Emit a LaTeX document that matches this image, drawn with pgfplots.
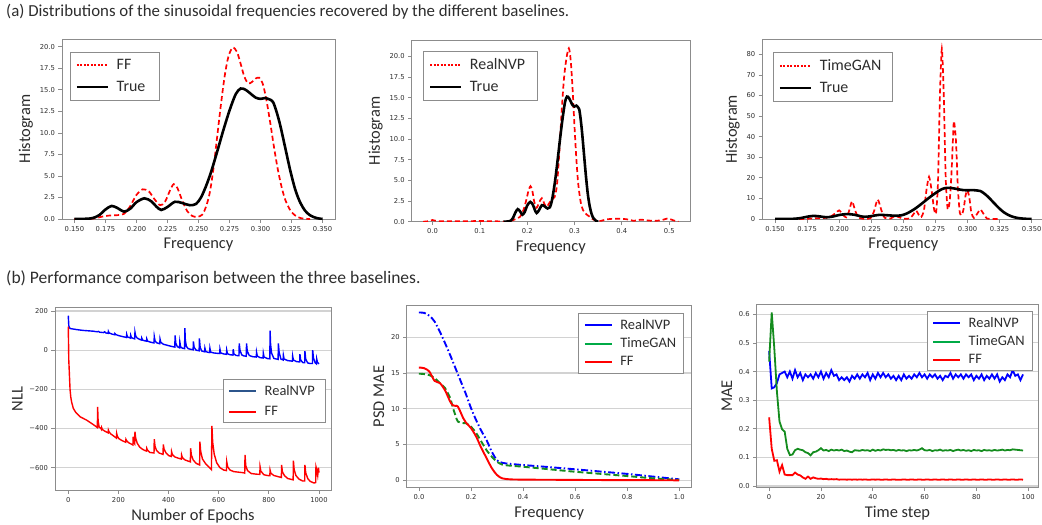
\documentclass[border=0pt]{standalone}
\usepackage{fontspec}
\setmainfont{Carlito}
\newfontfamily\tickfont{DejaVu Sans}
\usepackage{pgfplots}
\pgfplotsset{compat=1.18}

\definecolor{framegray}{RGB}{140,140,140}
\definecolor{gridgray}{RGB}{210,210,210}
\definecolor{txtgray}{RGB}{45,45,45}
\definecolor{mplgreen}{RGB}{20,140,30}
\definecolor{leggreen}{RGB}{0,170,70}
\definecolor{legblue}{RGB}{44,85,140}

\pgfplotsset{
  panel/.style={
    scale only axis,
    axis line style={draw=framegray, line width=0.9bp},
    tick style={draw=framegray, line width=0.7bp},
    tick align=outside, major tick length=3.5bp, tick pos=left,
    /pgf/number format/assume math mode=true,
    tick label style={font=\tickfont\fontsize{6.8}{8}\selectfont, text=txtgray},
    label style={font=\fontsize{16.5}{18}\selectfont, text=txtgray},
    legend cell align=left,
    legend style={draw=framegray, line width=0.9bp, text=txtgray},
  },
  toplegend/.style={
    legend style={font=\fontsize{16}{18}\selectfont,
      inner xsep=5bp, inner ysep=4bp, row sep=3bp, column sep=4bp,
      nodes={inner sep=3.5bp}},
    legend image code/.code={\draw[##1] (0bp,0bp) -- (31bp,0bp);},
  },
  botlegend/.style={
    legend style={font=\fontsize{14.5}{16}\selectfont,
      inner xsep=5bp, inner ysep=3bp, row sep=2bp, column sep=5bp,
      nodes={inner sep=2.6bp}},
    legend image code/.code={\draw[##1] (0bp,0bp) -- (27bp,0bp);},
  },
  ygrid/.style={ymajorgrids, major grid style={draw=gridgray, line width=1.1bp}},
}

% kernel density of the true frequencies (same in all three top panels)
\pgfplotstableread{
x y
0.150 0.00
0.160 0.03
0.165 0.12
0.170 0.45
0.175 1.10
0.180 1.52
0.185 1.25
0.190 0.85
0.195 1.20
0.200 1.95
0.2065 2.40
0.212 2.05
0.216 1.45
0.220 1.05
0.225 1.40
0.231 2.00
0.237 1.85
0.243 1.60
0.248 1.75
0.252 2.50
0.256 3.80
0.260 5.40
0.265 7.80
0.270 10.30
0.275 12.60
0.280 14.50
0.284 15.15
0.288 15.00
0.292 14.55
0.296 14.10
0.300 13.95
0.304 14.05
0.307 13.90
0.310 13.60
0.313 12.40
0.316 10.80
0.320 8.20
0.324 5.60
0.328 3.40
0.332 1.90
0.336 0.95
0.340 0.42
0.345 0.12
0.350 0.00
}\truedata

\pgfplotstableread{
x y
0.150 0.00
0.160 0.00
0.165 0.05
0.170 0.20
0.175 0.35
0.180 0.42
0.185 0.45
0.190 0.60
0.195 1.50
0.200 2.80
0.205 3.45
0.210 3.20
0.214 2.40
0.219 1.60
0.223 2.00
0.227 3.30
0.230 4.05
0.233 3.60
0.237 2.10
0.241 0.90
0.245 0.35
0.249 0.25
0.253 0.50
0.256 1.40
0.259 3.00
0.262 5.80
0.265 9.50
0.268 13.20
0.271 16.50
0.274 18.80
0.2775 19.90
0.281 19.40
0.284 18.00
0.287 16.50
0.290 15.75
0.293 15.90
0.296 16.30
0.299 16.40
0.302 15.60
0.305 13.60
0.308 11.00
0.311 8.20
0.314 5.70
0.317 3.70
0.320 2.20
0.324 1.00
0.328 0.40
0.332 0.12
0.336 0.03
0.340 0.00
}\ffdata

\pgfplotstableread{
x y
-0.020 0.00
-0.010 0.05
0.000 0.20
0.008 0.10
0.020 0.05
0.060 0.05
0.100 0.08
0.140 0.04
0.155 0.00
0.165 0.10
0.175 0.30
0.185 0.60
0.192 1.40
0.198 2.60
0.203 3.80
0.207 4.30
0.211 3.70
0.215 2.40
0.220 1.70
0.225 2.30
0.231 2.85
0.236 2.20
0.241 1.80
0.246 2.20
0.252 2.70
0.258 3.00
0.263 4.50
0.268 8.50
0.273 13.50
0.278 17.50
0.283 19.80
0.288 21.00
0.292 19.50
0.296 16.00
0.300 11.50
0.304 7.50
0.308 4.50
0.313 2.40
0.318 1.40
0.325 0.90
0.332 0.60
0.340 0.25
0.348 0.10
0.356 0.10
0.365 0.25
0.380 0.35
0.400 0.35
0.415 0.25
0.425 0.10
0.440 0.25
0.455 0.15
0.470 0.10
0.485 0.20
0.497 0.40
0.505 0.25
0.515 0.05
0.520 0.00
}\nvpdata

\pgfplotstableread{
x y
0.150 0.0
0.170 0.0
0.180 0.3
0.188 0.5
0.193 1.0
0.197 2.8
0.200 4.2
0.203 2.0
0.2055 0.8
0.2075 3.5
0.210 8.6
0.2125 4.0
0.215 0.8
0.220 0.0
0.2245 0.5
0.227 3.5
0.230 9.5
0.233 4.0
0.2355 0.6
0.240 0.2
0.2435 1.5
0.246 1.0
0.250 0.2
0.255 0.3
0.2575 2.0
0.260 4.0
0.2625 1.5
0.264 1.0
0.266 4.0
0.268 14.0
0.270 20.5
0.272 14.0
0.274 4.5
0.2755 3.0
0.277 18.0
0.2785 60.0
0.280 82.7
0.2815 60.0
0.283 20.0
0.2845 5.0
0.286 8.0
0.2875 22.0
0.289 44.0
0.2895 47.5
0.291 38.0
0.2925 15.0
0.294 3.0
0.2955 2.0
0.297 5.0
0.2985 11.5
0.300 14.0
0.3015 10.0
0.303 3.0
0.305 0.5
0.3075 2.5
0.310 4.6
0.3125 2.5
0.315 0.3
0.320 0.0
0.325 0.0
}\gandata

% NLL training curves
\pgfplotstableread{
e y
0 176
2 125
5 113
10 110
20 108
40 104
60 101
80 99
100 97
115 94
120 96
125 92
140 90
145 94
150 88
159 86
160 96
163 88
175 82
185 79
186 85
189 80
200 75
215 70
232 65
233 81
236 68
248 62
249 76
252 64
260 60
265 58
266 92
269 72
275 62
285 55
292 52
293 62
296 52
305 48
312 46
313 58
316 47
325 42
342 37
343 70
346 48
352 38
365 33
366 57
369 40
380 30
395 25
410 20
425 16
426 75
429 35
435 18
444 12
445 42
448 18
455 10
464 8
465 113
467 50
471 20
478 8
490 4
498 2
499 45
502 15
510 0
522 -3
523 60
526 15
532 -4
544 -8
545 10
548 -6
555 -10
564 -12
565 10
568 -10
580 -14
595 -16
604 -17
605 5
608 -14
620 -19
631 -21
632 0
635 -18
645 -23
657 -25
658 5
661 -20
670 -27
681 -28
682 35
685 0
692 -24
700 -29
710 -31
711 35
714 -5
722 -27
735 -33
750 -35
751 -10
754 -30
765 -38
777 -40
778 -15
781 -35
795 -43
804 -44
805 100
807 30
811 -15
820 -42
837 -47
838 35
841 -10
848 -45
857 -50
858 -25
861 -45
875 -53
894 -56
895 -30
898 -50
910 -58
923 -60
924 -20
927 -50
935 -63
943 -64
944 -5
947 -45
955 -65
965 -68
974 -68
975 0
978 -40
985 -65
990 -70
991 -45
994 -62
1000 -70
}\nllnvp

\pgfplotstableread{
e y
0 120
2 -50
4 -110
7 -200
10 -240
13 -263
20 -297
30 -318
47 -340
73 -357
100 -380
116 -395
117 -289
119 -360
123 -392
130 -400
132 -404
133 -395
136 -405
145 -413
159 -422
160 -408
163 -418
170 -428
185 -442
192 -449
193 -425
196 -440
202 -452
215 -462
229 -470
230 -455
233 -462
240 -472
258 -484
259 -442
261 -470
265 -478
266 -416
269 -450
275 -475
285 -495
295 -505
305 -512
312 -515
313 -501
316 -510
325 -522
342 -525
343 -454
346 -490
352 -512
362 -525
378 -532
379 -481
382 -505
390 -525
400 -538
411 -543
412 -518
415 -532
425 -545
440 -552
451 -556
452 -535
455 -548
465 -560
475 -565
487 -570
488 -501
491 -535
498 -560
510 -578
524 -586
525 -467
528 -515
535 -555
548 -580
560 -595
571 -610
573 -387
576 -470
582 -530
592 -575
605 -600
620 -612
631 -615
632 -569
636 -596
645 -612
660 -620
680 -623
700 -626
704 -628
705 -535
708 -590
715 -615
730 -630
750 -633
764 -634
765 -595
768 -617
780 -636
795 -640
804 -641
805 -612
808 -628
820 -640
835 -645
850 -650
851 -586
854 -620
862 -640
875 -655
890 -660
897 -662
898 -564
901 -610
908 -640
920 -658
935 -668
943 -668
944 -586
947 -625
955 -655
965 -670
980 -678
987 -676
988 -595
991 -610
995 -640
998 -600
1000 -625
}\nllff

% PSD mean absolute error
\pgfplotstableread{
f nvp gan ff
0.00 23.45 14.90 15.76
0.02 23.40 14.85 15.67
0.04 23.00 14.70 15.20
0.06 22.20 14.30 13.90
0.08 20.80 13.60 13.60
0.10 19.20 12.90 12.60
0.12 17.50 11.50 11.00
0.13 16.60 10.20 10.50
0.14 15.70 9.10 10.40
0.15 14.80 8.20 10.30
0.17 13.00 8.00 8.70
0.18 12.10 8.00 8.10
0.20 10.10 7.50 7.30
0.22 8.40 6.60 6.10
0.24 6.90 5.40 4.50
0.26 5.60 4.20 3.10
0.28 4.00 3.30 1.70
0.30 2.80 2.60 0.75
0.32 2.45 2.20 0.28
0.35 2.30 2.05 0.14
0.40 2.14 1.90 0.10
0.50 1.85 1.55 0.08
0.60 1.54 1.20 0.06
0.70 1.22 0.90 0.04
0.80 0.90 0.60 0.03
0.90 0.52 0.28 0.02
1.00 0.14 0.05 0.00
}\psd

% MAE per time step
\pgfplotstableread{
t nvp gan ff
0 0.472 0.435 0.240
1 0.341 0.607 0.130
2 0.345 0.480 0.088
3 0.360 0.330 0.090
4 0.390 0.225 0.050
5 0.395 0.198 0.073
6 0.400 0.190 0.040
7 0.380 0.130 0.038
8 0.400 0.108 0.038
9 0.375 0.110 0.038
10 0.405 0.125 0.047
11 0.380 0.130 0.040
12 0.395 0.127 0.037
13 0.370 0.125 0.030
14 0.390 0.118 0.025
15 0.380 0.115 0.033
16 0.390 0.107 0.025
17 0.375 0.118 0.030
18 0.395 0.120 0.027
19 0.380 0.125 0.025
20 0.400 0.132 0.026
21 0.375 0.124 0.024
22 0.395 0.126 0.025
23 0.380 0.122 0.023
24 0.405 0.127 0.024
25 0.385 0.124 0.023
26 0.390 0.126 0.024
27 0.370 0.124 0.022
28 0.380 0.127 0.023
29 0.370 0.122 0.023
30 0.380 0.124 0.022
31 0.365 0.120 0.023
32 0.385 0.118 0.022
33 0.375 0.125 0.023
34 0.390 0.124 0.022
35 0.375 0.123 0.023
36 0.390 0.126 0.022
37 0.380 0.124 0.023
38 0.395 0.125 0.022
39 0.370 0.122 0.022
40 0.390 0.127 0.023
41 0.375 0.123 0.022
42 0.395 0.126 0.023
43 0.380 0.124 0.022
44 0.395 0.128 0.022
45 0.380 0.126 0.023
46 0.390 0.127 0.022
47 0.375 0.125 0.022
48 0.385 0.126 0.023
49 0.370 0.123 0.022
50 0.385 0.126 0.022
51 0.370 0.124 0.022
52 0.390 0.125 0.023
53 0.375 0.122 0.022
54 0.385 0.125 0.022
55 0.375 0.124 0.023
56 0.390 0.126 0.022
57 0.380 0.124 0.022
58 0.395 0.127 0.023
59 0.380 0.132 0.022
60 0.390 0.125 0.022
61 0.375 0.124 0.023
62 0.390 0.126 0.022
63 0.380 0.122 0.022
64 0.390 0.125 0.023
65 0.375 0.124 0.022
66 0.385 0.127 0.022
67 0.370 0.123 0.023
68 0.385 0.125 0.022
69 0.380 0.124 0.022
70 0.395 0.126 0.023
71 0.375 0.122 0.022
72 0.390 0.125 0.022
73 0.380 0.127 0.023
74 0.390 0.124 0.022
75 0.375 0.126 0.022
76 0.390 0.123 0.023
77 0.380 0.125 0.022
78 0.390 0.122 0.022
79 0.370 0.126 0.023
80 0.385 0.124 0.022
81 0.375 0.125 0.022
82 0.390 0.122 0.023
83 0.370 0.126 0.022
84 0.385 0.124 0.022
85 0.375 0.125 0.023
86 0.390 0.123 0.022
87 0.375 0.126 0.022
88 0.390 0.124 0.023
89 0.365 0.125 0.022
90 0.380 0.127 0.022
91 0.370 0.124 0.023
92 0.390 0.126 0.022
93 0.380 0.125 0.022
94 0.405 0.128 0.023
95 0.385 0.127 0.022
96 0.390 0.126 0.022
97 0.370 0.125 0.023
98 0.390 0.124 0.022
}\mae

\begin{document}
\begin{tikzpicture}
\useasboundingbox (0,0) rectangle (1042bp,-525bp);

\node[anchor=base west, inner sep=0, text=txtgray, font=\fontsize{16.9}{19}\selectfont]
  at (6bp,-16.5bp) {(a) Distributions of the sinusoidal frequencies recovered by the different baselines.};
\node[anchor=base west, inner sep=0, text=txtgray, font=\fontsize{17.6}{19}\selectfont]
  at (6bp,-283bp) {(b) Performance comparison between the three baselines.};

% ---- (a) left: FF
\begin{axis}[panel, toplegend,
  at={(62bp,-39bp)}, anchor=north west, width=273bp, height=180bp,
  xmin=0.14, xmax=0.36, ymin=0, ymax=20.9,
  xtick={0.15,0.175,0.2,0.225,0.25,0.275,0.3,0.325,0.35},
  xticklabels={0.150,0.175,0.200,0.225,0.250,0.275,0.300,0.325,0.350},
  ytick={0,2.5,5,7.5,10,12.5,15,17.5,20},
  yticklabels={0.0,2.5,5.0,7.5,10.0,12.5,15.0,17.5,20.0},
  xlabel={Frequency}, ylabel={Histogram},
  legend style={at={(0.03,0.93)}, anchor=north west}]
\addplot[forget plot, red, line width=1.7bp, dash pattern=on 5bp off 3bp, smooth] table[x=x, y=y] {\ffdata};
\addplot[forget plot, black, line width=2.6bp, smooth] table[x=x, y=y] {\truedata};
\addlegendimage{red, line width=2bp, dash pattern=on 2bp off 1.5bp}
\addlegendentry{FF}
\addlegendimage{black, line width=2.6bp}
\addlegendentry{True\hspace*{6bp}}
\end{axis}

% ---- (a) middle: RealNVP
\begin{axis}[panel, toplegend,
  at={(411.7bp,-40bp)}, anchor=north west, width=278.3bp, height=181.7bp,
  xmin=-0.044, xmax=0.544, ymin=0, ymax=22.0,
  xtick={0,0.1,0.2,0.3,0.4,0.5},
  xticklabels={0.0,0.1,0.2,0.3,0.4,0.5},
  ytick={0,2.5,5,7.5,10,12.5,15,17.5,20},
  yticklabels={0.0,2.5,5.0,7.5,10.0,12.5,15.0,17.5,20.0},
  xlabel={Frequency}, ylabel={Histogram},
  legend style={at={(0.042,0.941)}, anchor=north west}]
\addplot[forget plot, red, line width=1.7bp, dash pattern=on 5bp off 3bp, smooth] table[x=x, y=y] {\nvpdata};
\addplot[forget plot, black, line width=2.6bp, smooth] table[x=x, y=y] {\truedata};
\addlegendimage{red, line width=2bp, dash pattern=on 2bp off 1.5bp}
\addlegendentry{RealNVP\hspace*{4bp}}
\addlegendimage{black, line width=2.6bp}
\addlegendentry{True}
\end{axis}

% ---- (a) right: TimeGAN
\begin{axis}[panel, toplegend,
  at={(762.2bp,-39.3bp)}, anchor=north west, width=282.3bp, height=179.7bp,
  xmin=0.14, xmax=0.36, ymin=0, ymax=87.3,
  xtick={0.15,0.175,0.2,0.225,0.25,0.275,0.3,0.325,0.35},
  xticklabels={0.150,0.175,0.200,0.225,0.250,0.275,0.300,0.325,0.350},
  ytick={0,10,...,80},
  xlabel={Frequency}, ylabel={Histogram},
  legend style={at={(0.039,0.931)}, anchor=north west}]
\addplot[forget plot, red, line width=1.7bp, dash pattern=on 5bp off 3bp, smooth, tension=0.4] table[x=x, y=y] {\gandata};
\addplot[forget plot, black, line width=2.6bp, smooth] table[x=x, y=y] {\truedata};
\addlegendimage{red, line width=2bp, dash pattern=on 2bp off 1.5bp}
\addlegendentry{TimeGAN\hspace*{3bp}}
\addlegendimage{black, line width=2.6bp}
\addlegendentry{True}
\end{axis}

% ---- (b) left: NLL
\begin{axis}[panel, botlegend, ygrid,
  at={(55bp,-307.7bp)}, anchor=north west, width=276bp, height=182.3bp,
  xmin=-53, xmax=1048, ymin=-714, ymax=217,
  xtick={0,200,400,600,800,1000},
  xticklabels={0,200,400,600,800,1000},
  ytick={-600,-400,-200,0,200},
  yticklabels={−600,−400,−200,0,200},
  xlabel={Number of Epochs}, ylabel={NLL},
  legend style={at={(0.981,0.607)}, anchor=north east, row sep=4bp}]
\addplot[forget plot, blue, line width=1.4bp] table[x=e, y=y] {\nllnvp};
\addplot[forget plot, red, line width=1.4bp] table[x=e, y=y] {\nllff};
\addlegendimage{legblue, line width=2bp}
\addlegendentry{RealNVP\hspace*{3bp}}
\addlegendimage{red, line width=2bp}
\addlegendentry{FF}
\end{axis}

% ---- (b) middle: PSD MAE
\begin{axis}[panel, botlegend, ygrid,
  at={(406.7bp,-305bp)}, anchor=north west, width=285bp, height=182.7bp,
  xmin=-0.047, xmax=1.048, ymin=-1.03, ymax=24.5,
  xtick={0,0.2,0.4,0.6,0.8,1.0},
  xticklabels={0.0,0.2,0.4,0.6,0.8,1.0},
  ytick={0,5,10,15,20},
  xlabel={Frequency}, ylabel={PSD MAE},
  legend style={at={(0.974,0.955)}, anchor=north east}]
\addplot[forget plot, blue, line width=1.9bp, dash pattern=on 7bp off 2.5bp on 1.5bp off 2.5bp, smooth] table[x=f, y=nvp] {\psd};
\addplot[forget plot, mplgreen, line width=1.9bp, dash pattern=on 6bp off 3bp, smooth] table[x=f, y=gan] {\psd};
\addplot[forget plot, red, line width=1.9bp, smooth] table[x=f, y=ff] {\psd};
\addlegendimage{blue, line width=2bp}
\addlegendentry{RealNVP}
\addlegendimage{leggreen, line width=2bp}
\addlegendentry{TimeGAN}
\addlegendimage{red, line width=2bp}
\addlegendentry{FF}
\end{axis}

% ---- (b) right: MAE per time step
\begin{axis}[panel, botlegend, ygrid,
  at={(756.7bp,-304.3bp)}, anchor=north west, width=281.6bp, height=183.4bp,
  xmin=-4.8, xmax=103.9, ymin=-0.006, ymax=0.635,
  xtick={0,20,40,60,80,100},
  ytick={0,0.1,0.2,0.3,0.4,0.5,0.6},
  yticklabels={0.0,0.1,0.2,0.3,0.4,0.5,0.6},
  xlabel={Time step}, ylabel={MAE},
  legend style={at={(0.98,0.963)}, anchor=north east}]
\addplot[forget plot, blue, line width=1.8bp] table[x=t, y=nvp] {\mae};
\addplot[forget plot, mplgreen, line width=1.8bp] table[x=t, y=gan] {\mae};
\addplot[forget plot, red, line width=1.8bp] table[x=t, y=ff] {\mae};
\addlegendimage{blue, line width=2bp}
\addlegendentry{RealNVP}
\addlegendimage{leggreen, line width=2bp}
\addlegendentry{TimeGAN}
\addlegendimage{red, line width=2bp}
\addlegendentry{FF}
\end{axis}
\end{tikzpicture}
\end{document}
